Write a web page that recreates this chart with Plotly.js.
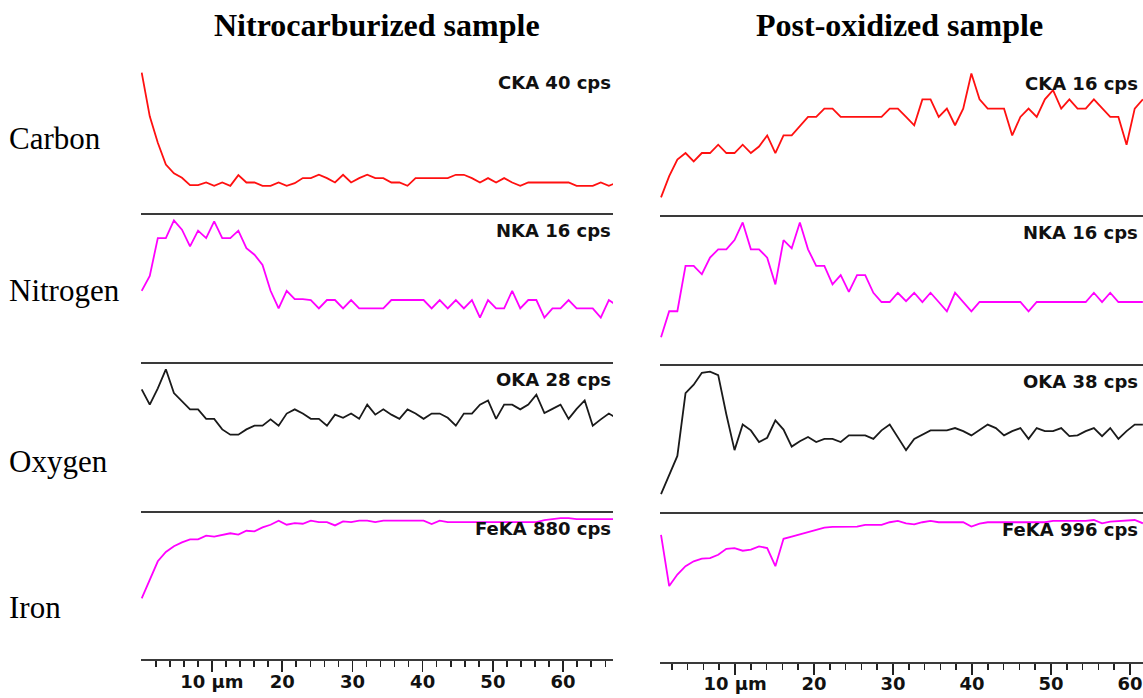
<!DOCTYPE html>
<html>
<head>
<meta charset="utf-8">
<script src="https://cdn.plot.ly/plotly-3.0.1.min.js"></script>
<style>
  html, body { margin: 0; padding: 0; background: #ffffff; }
  #chart { width: 1143px; height: 698px; }
</style>
</head>
<body>
<div id="chart"></div>
<script>
// ---------------- DATA (counts per second) ----------------
// Scan positions (µm): first point and step along the line scan
const leftScanStart = 0;      // µm
const leftScanStep = 1.1467;  // µm
const rightScanStart = 0.63;  // µm
const rightScanStep = 1.034;  // µm

const panelTitles = ["Nitrocarburized sample", "Post-oxidized sample"];
const elementNames = ["Carbon", "Nitrogen", "Oxygen", "Iron"];
const leftChannelLabels = ["CKA 40 cps", "NKA 16 cps", "OKA 28 cps", "FeKA 880 cps"];
const rightChannelLabels = ["CKA 16 cps", "NKA 16 cps", "OKA 38 cps", "FeKA 996 cps"];
const leftFullScale = [40, 16, 28, 880];
const rightFullScale = [16, 16, 38, 996];

const majorTickValues = [10, 20, 30, 40, 50, 60];
const majorTickLabels = ["10 µm", "20", "30", "40", "50", "60"];
const leftMinorTicks = [2,4,6,8,10,12,14,16,18,20,22,24,26,28,30,32,34,36,38,40,42,44,46,48,50,52,54,56,58,60,62,64,66];
const rightMinorTicks = [2,4,6,8,10,12,14,16,18,20,22,24,26,28,30,32,34,36,38,40,42,44,46,48,50,52,54,56,58,60];

// Nitrocarburized sample
const leftCarbon = [38.2,26.3,19.1,13.2,10.8,9.6,7.6,7.6,8.3,7.4, 8.3,7.4,10.3,8.3,8.3,7.4,7.4,8.3,7.4,8.1,
  9.5,9.5,10.4,9.5,8.3,10.4,8.3,9.5,10.4,9.5, 9.5,8.3,8.3,7.4,9.5,9.5,9.5,9.5,9.5,10.4,
  10.4,9.5,8.3,9.5,8.3,9.5,8.3,7.4,8.3,8.3, 8.3,8.3,8.3,8.3,7.4,7.4,7.4,8.3,7.4,8.3];
const leftNitrogen = [7.7,9.3,13.4,13.4,15.3,14.3,12.5,14.2,13.4,15.2, 13.4,13.4,14.2,12.3,11.6,10.5,7.7,5.8,7.7,6.8,
  6.8,6.7,5.8,6.7,6.7,5.8,6.7,5.8,5.8,5.8, 5.8,6.7,6.7,6.7,6.7,6.7,5.8,6.7,5.8,6.7,
  5.8,6.7,4.8,6.7,5.8,5.8,7.7,5.8,6.7,6.7, 4.8,5.8,5.8,6.7,5.8,5.8,5.8,4.8,6.7,6.1];
const leftOxygen = [23.0,20.1,23.2,26.8,22.3,20.7,19.2,19.2,17.4,17.4, 15.4,14.4,14.4,15.4,16.1,16.1,17.3,16.1,18.4,19.2,
  18.4,17.4,17.4,16.1,18.2,17.6,18.4,17.4,20.1,18.2, 19.2,18.2,17.4,19.2,18.4,17.4,18.4,18.4,17.6,16.1,
  18.4,18.4,20.1,20.9,17.4,20.1,20.1,19.2,20.1,22.0, 18.5,19.3,20.1,17.4,19.3,20.9,16.1,17.3,18.4,17.5];
const leftIron = [362,473,583,639,673,696,714,714,736,730, 742,750,742,765,762,785,801,825,801,811,
  807,825,817,817,797,821,817,825,825,817, 825,825,825,825,825,825,805,825,817,817,
  817,817,817,817,817,817,817,817,817,817, 829,837,841,841,835,835,835,835,835,835];

// Post-oxidized sample
const rightCarbon = [1.9,4.2,6.0,6.7,5.8,6.7,6.7,7.6,6.7,6.7, 7.6,6.7,7.4,8.6,6.7,8.6,8.6,9.6,10.6,10.6,
  11.5,11.5,10.6,10.6,10.6,10.6,10.6,10.6,11.5,11.5, 10.6,9.7,12.5,12.5,10.6,11.5,9.7,11.5,15.3,12.5,
  11.5,11.5,11.5,8.6,10.6,11.5,10.6,12.5,13.5,11.5, 12.5,11.5,11.5,12.5,11.5,10.6,10.6,7.6,11.5,12.5];
const rightNitrogen = [2.9,5.7,5.7,10.6,10.6,9.7,11.5,12.4,12.4,13.4, 15.3,12.4,12.4,11.5,8.6,13.4,12.5,15.3,12.4,10.6,
  10.6,8.6,9.6,7.8,9.6,9.6,7.7,6.7,6.7,7.7, 6.8,7.7,6.7,7.7,6.7,5.7,7.7,6.7,5.7,6.7,
  6.7,6.7,6.7,6.7,6.7,5.7,6.7,6.7,6.7,6.7, 6.7,6.7,6.7,7.7,6.7,7.7,6.7,6.7,6.7,6.7];
const rightOxygen = [4.6,9.8,14.5,30.7,32.9,36.0,36.3,35.4,25.2,16.0, 22.6,21.1,18.1,19.2,23.7,21.3,16.9,18.3,19.4,18.1,
  18.9,18.9,18.1,19.8,19.8,19.8,18.9,21.1,22.6,19.4, 16.0,18.9,20.0,21.1,21.1,21.1,21.7,20.9,19.8,21.1,
  22.6,21.7,19.8,20.9,21.7,18.9,21.7,20.9,20.9,21.7, 19.6,19.8,20.9,21.7,19.6,21.7,18.9,20.9,22.6,22.6];
const rightIron = [850,506,583,639,672,690,694,716,756,761, 743,750,772,761,639,823,838,854,867,883,
  898,903,905,905,905,916,916,916,934,943, 927,920,934,943,934,934,934,934,905,925,
  934,934,934,934,934,934,934,934,943,943, 943,943,943,949,927,938,943,947,949,927];

const leftSeries = [leftCarbon, leftNitrogen, leftOxygen, leftIron];
const rightSeries = [rightCarbon, rightNitrogen, rightOxygen, rightIron];
const seriesColors = ["#ff1010", "#ff00ff", "#1a1a1a", "#ff00ff"];

// ---------------- LAYOUT GEOMETRY (pixels) ----------------
const W = 1143, H = 698;
const leftX = [141, 613], rightX = [660, 1143];
const leftRange = [-0.1, 67.1], rightRange = [0.5, 61.65];
const leftTops = [66, 214, 363, 511.5], leftBottoms = [213, 362, 510.5, 659];
const rightTops = [67, 216, 365, 513], rightBottoms = [215, 364, 512, 661.5];
const rowLabelY = [139, 291, 461, 607];

const px2x = p => p / W;
const px2y = p => 1 - p / H;

const data = [];
const layout = {
  width: W, height: H,
  margin: {l: 0, r: 0, t: 0, b: 0},
  paper_bgcolor: "#ffffff",
  plot_bgcolor: "rgba(0,0,0,0)",
  showlegend: false,
  hovermode: false,
  annotations: []
};

const tickFont = {family: "DejaVu Sans, Arial, sans-serif", size: 18, color: "#111111", weight: "bold"};
const labelFont = {family: "DejaVu Sans, Arial, sans-serif", size: 18, color: "#111111", weight: "bold"};

function addPanel(side) {
  const isLeft = side === 0;
  const series = isLeft ? leftSeries : rightSeries;
  const full = isLeft ? leftFullScale : rightFullScale;
  const tops = isLeft ? leftTops : rightTops;
  const bottoms = isLeft ? leftBottoms : rightBottoms;
  const xd = isLeft ? leftX : rightX;
  const labels = isLeft ? leftChannelLabels : rightChannelLabels;
  for (let r = 0; r < 4; r++) {
    const k = side * 4 + r + 1;
    const xn = "xaxis" + (k === 1 ? "" : k);
    const yn = "yaxis" + (k === 1 ? "" : k);
    const xr = "x" + (k === 1 ? "" : k);
    const yr = "y" + (k === 1 ? "" : k);
    const isBottom = r === 3;
    layout[xn] = {
      domain: [px2x(xd[0]), px2x(xd[1])],
      range: isLeft ? leftRange : rightRange,
      anchor: yr,
      showline: true, linecolor: "#3a3a3a", linewidth: 2,
      showgrid: false, zeroline: false, fixedrange: true,
      ticks: isBottom ? "outside" : "",
      showticklabels: isBottom,
      tickmode: "array",
      tickvals: isBottom ? majorTickValues : [],
      ticktext: isBottom ? majorTickLabels : [],
      ticklen: 11, tickwidth: 1.5, tickcolor: "#222222",
      ticklabelstandoff: -6,
      tickfont: tickFont
    };
    if (isBottom) {
      layout[xn].minor = {
        ticks: "outside", ticklen: 6, tickwidth: 1.5, tickcolor: "#222222",
        tickmode: "array", tickvals: isLeft ? leftMinorTicks : rightMinorTicks,
        showgrid: false
      };
    }
    layout[yn] = {
      domain: [px2y(bottoms[r]), px2y(tops[r])],
      range: [0, full[r]],
      anchor: xr,
      visible: false, showgrid: false, zeroline: false, fixedrange: true
    };
    data.push({
      type: "scatter", mode: "lines",
      y: series[r],
      x0: isLeft ? leftScanStart : rightScanStart,
      dx: isLeft ? leftScanStep : rightScanStep,
      xaxis: xr, yaxis: yr,
      line: {color: seriesColors[r], width: 1.8},
      hoverinfo: "skip"
    });
    layout.annotations.push({
      xref: "paper", yref: "paper",
      x: px2x(isLeft ? 613 : 1140), y: px2y(tops[r] + 4),
      xanchor: "right", yanchor: "top",
      text: labels[r], showarrow: false, font: labelFont
    });
  }
}
addPanel(0);
addPanel(1);

// Element names on the left
elementNames.forEach((name, r) => {
  layout.annotations.push({
    xref: "paper", yref: "paper",
    x: px2x(7), y: px2y(rowLabelY[r]),
    xanchor: "left", yanchor: "middle",
    text: name, showarrow: false,
    font: {family: "Liberation Serif, Times New Roman, serif", size: 31, color: "#000000"}
  });
});

// Panel titles
const titleCenters = [376.5, 899];
panelTitles.forEach((t, i) => {
  layout.annotations.push({
    xref: "paper", yref: "paper",
    x: px2x(titleCenters[i]), y: px2y(25),
    xanchor: "center", yanchor: "middle",
    text: t, showarrow: false,
    font: {family: "Liberation Serif, Times New Roman, serif", size: 32, color: "#000000", weight: "bold"}
  });
});

Plotly.newPlot("chart", data, layout, {displayModeBar: false, staticPlot: true});
</script>
</body>
</html>
